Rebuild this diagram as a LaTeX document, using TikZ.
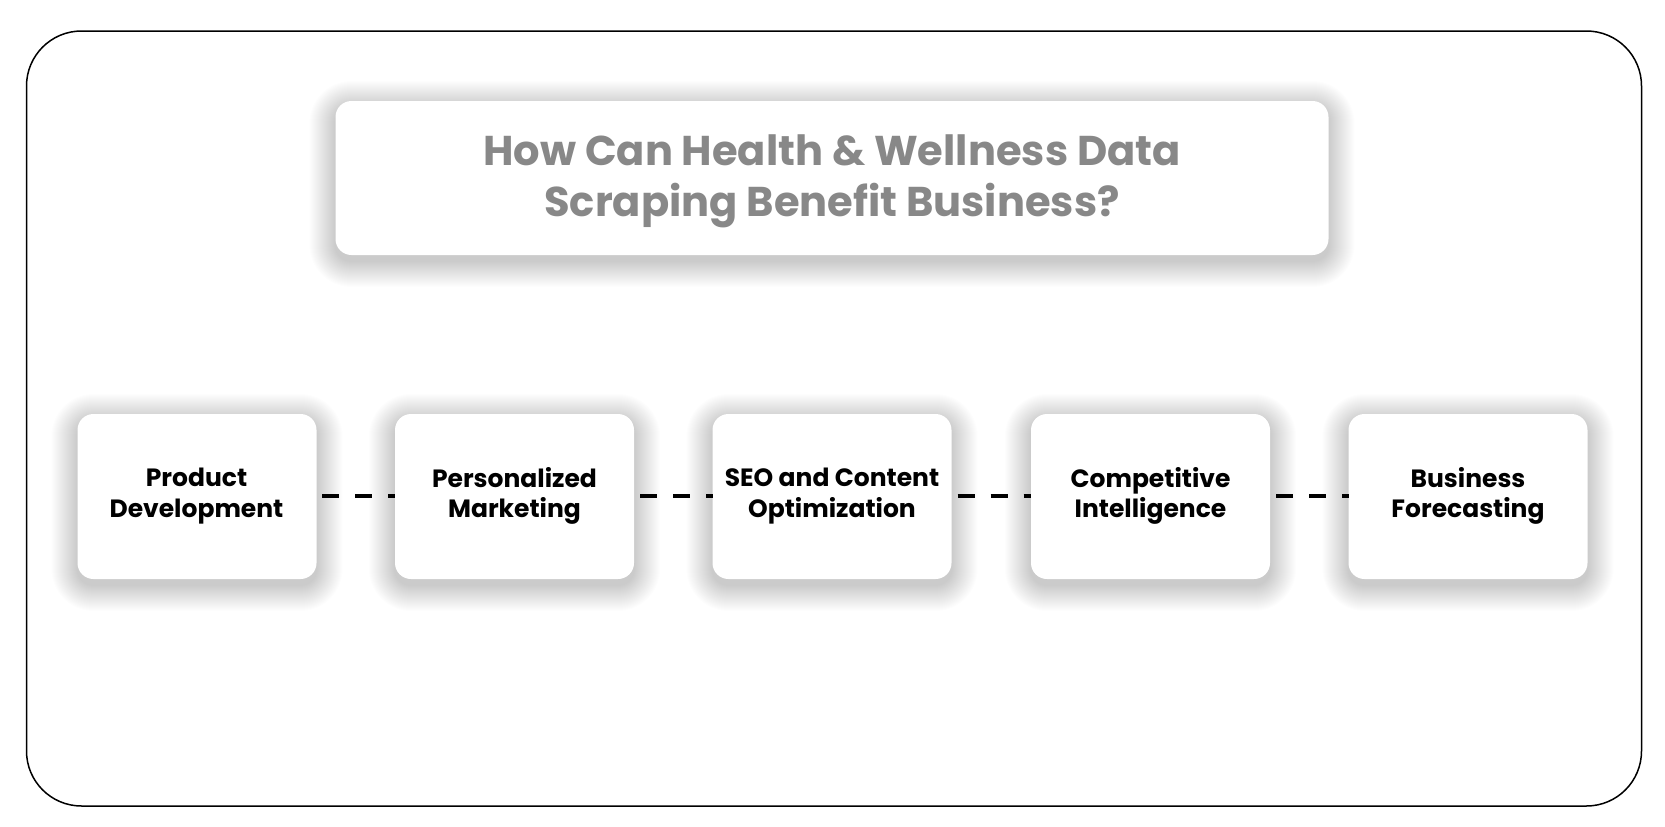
\documentclass[tikz,border=0pt]{standalone}
\usepackage{fontspec}
\setmainfont{Poppins}
\definecolor{titlegray}{HTML}{888888}
\usetikzlibrary{calc}
\newcommand{\softcard}[4]{% x1,y1,x2,y2
  \foreach \r in {1,...,26}{
    \fill[black, opacity=0.0065, rounded corners=16pt+\r pt]
      ($(#1,#2)+(-\r,-\r+6)$) rectangle ($(#3,#4)+(\r,\r+6)$);
  }
  \fill[white, rounded corners=16pt] (#1,#2) rectangle (#3,#4);
}
\begin{document}
\begin{tikzpicture}[x=1pt,y=-1pt,
  itemtext/.style={font=\fontsize{25}{30.5}\selectfont\bfseries, text=black, align=center},
  link/.style={black, line width=4pt, dash pattern=on 17pt off 16pt, dash phase=27pt}
]
\useasboundingbox (0,0) rectangle (1665,827);
\fill[white] (0,0) rectangle (1665,827);
\draw[line width=1.5pt, rounded corners=55pt] (26.5,31) rectangle (1641.5,806);
% title card
\softcard{335.5}{101}{1328.5}{255}
\node[font=\fontsize{41.6}{50.5}\selectfont\bfseries, text=titlegray, align=center] (title) at (832,181.5) {How Can Health \& Wellness Data\\Scraping Benefit Business?};
% item cards
\foreach \x in {77.5,395,712.5,1031,1348.5}{
  \softcard{\x}{414}{\x+239}{579}
}
% connectors
\coordinate (l1) at (316,496);
\coordinate (r1) at (395,496);
\coordinate (l2) at (634,496);
\coordinate (r2) at (712.5,496);
\coordinate (l3) at (951.5,496);
\coordinate (r3) at (1031,496);
\coordinate (l4) at (1270,496);
\coordinate (r4) at (1348.5,496);
\draw[link] (l1) -- (r1);
\draw[link] (l2) -- (r2);
\draw[link] (l3) -- (r3);
\draw[link] (l4) -- (r4);
\node[itemtext] (a) at (196.5,496) {Product\\Development};
\node[itemtext] (b) at (514.5,496) {Personalized\\Marketing};
\node[itemtext] (c) at (832,496) {SEO and Content\\Optimization};
\node[itemtext] (d) at (1150.5,496) {Competitive\\Intelligence};
\node[itemtext] (e) at (1468,496) {Business\\Forecasting};
\end{tikzpicture}
\end{document}
